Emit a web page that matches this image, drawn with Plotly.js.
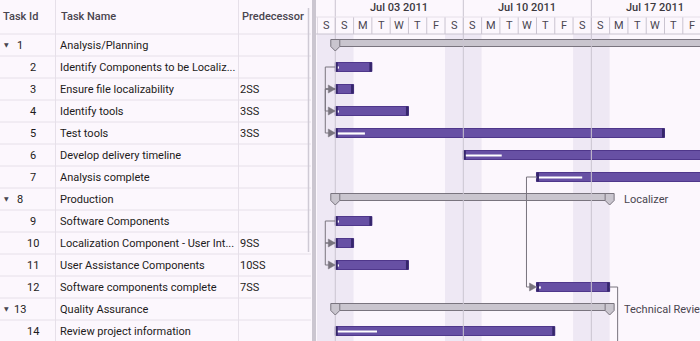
<!DOCTYPE html>
<html>
<head>
<meta charset="utf-8">
<script src="https://cdn.plot.ly/plotly-3.0.1.min.js"></script>
<style>
html,body{margin:0;padding:0;background:#fcf7fd;overflow:hidden;}
#chart{width:700px;height:341px;}
</style>
</head>
<body>
<div id="chart"></div>
<script>
// ---------------- data ----------------
const columnHeaders = ['Task Id', 'Task Name', 'Predecessor'];
const taskIds = [1, 2, 3, 4, 5, 6, 7, 8, 9, 10, 11, 12, 13, 14];
const taskNames = [
  'Analysis/Planning', 'Identify Components to be Localized', 'Ensure file localizability',
  'Identify tools', 'Test tools', 'Develop delivery timeline', 'Analysis complete',
  'Production', 'Software Components', 'Localization Component - User Interface',
  'User Assistance Components', 'Software components complete', 'Quality Assurance',
  'Review project information'
];
const predecessors = ['', '', '2SS', '3SS', '3SS', '', '', '', '', '9SS', '10SS', '7SS', '', ''];
const isParent = [true, false, false, false, false, false, false, true, false, false, false, false, true, false];
const startDates = ['2011-07-03', '2011-07-03', '2011-07-03', '2011-07-03', '2011-07-03', '2011-07-10', '2011-07-14',
                    '2011-07-03', '2011-07-03', '2011-07-03', '2011-07-03', '2011-07-14', '2011-07-03', '2011-07-03'];
const durationDays = [25, 2, 1, 4, 18, 14, 10, 15, 2, 1, 4, 4, 15, 12];
const progressPct = [0, 10, 10, 5, 9, 15, 25, 0, 10, 10, 5, 6, 0, 19];
const resourceNames = ['', '', '', '', '', '', '', 'Localizer', '', '', '', '', 'Technical Reviewer', ''];
// the successor of task 12 lies below the visible rows (finish-to-start link)
const offscreenLinks = [{from: 12, toRow: 15, type: 'FS'}];
const weekdayLetters = ['S', 'M', 'T', 'W', 'T', 'F', 'S'];
const monthNames = ['Jan', 'Feb', 'Mar', 'Apr', 'May', 'Jun', 'Jul', 'Aug', 'Sep', 'Oct', 'Nov', 'Dec'];
const viewStartDate = '2011-07-02';

// ---------------- geometry / style ----------------
const W = 700, H = 341, HEAD = 34, ROW = 22, CHART_L = 317, DAY_PX = 18.29;
const DAY = 86400000;
const FONT = 'Roboto, "Noto Sans", sans-serif';
const C = {
  bg: '#fcf7fd', weekend: '#eee8f4', line: '#e6e0e9', week: '#cac4d0', text: '#1d1b20', sub: '#49454f',
  bar: '#6750a4', barLine: '#4f378b', cap: '#35266b', sum: '#c9c5ce', sumLine: '#79747e', conn: '#79747e'
};
const viewStartMs = Date.parse(viewStartDate + 'T00:00:00Z');
const viewEndMs = viewStartMs + (W - CHART_L) / DAY_PX * DAY;
const yTop = -HEAD / ROW - 0.5, yBot = yTop + H / ROW;
const toStr = ms => new Date(ms).toISOString().slice(0, 19).replace('T', ' ');
const px = p => p / W;
const py = p => 1 - p / H;
const trunc = s => s.length > 34 ? s.slice(0, 33) + '...' : s;

const rows = taskIds.map((_, i) => i);
const sMs = startDates.map(d => Date.parse(d + 'T00:00:00Z'));
const eMs = sMs.map((s, i) => s + durationDays[i] * DAY);
const parents = rows.filter(i => isParent[i]);
const leaves = rows.filter(i => !isParent[i]);
const capMs = 2.5 / DAY_PX * DAY;

function bars(idx, baseFn, sizeFn, hPx, offPx, color, lineColor, lineW) {
  return {
    type: 'bar', orientation: 'h', y: idx, base: idx.map(i => toStr(baseFn(i))), x: idx.map(sizeFn),
    width: hPx / ROW, offset: offPx / ROW, hoverinfo: 'skip',
    marker: {color: color, line: {color: lineColor || color, width: lineW || 0}}
  };
}
const traces = [
  bars(parents, i => sMs[i], i => durationDays[i] * DAY, 7, -5.5, C.sum, C.sumLine, 1),
  bars(leaves, i => sMs[i], i => durationDays[i] * DAY, 9, -4.5, C.bar, C.barLine, 1),
  bars(leaves, i => sMs[i], i => durationDays[i] * DAY * progressPct[i] / 100, 2.2, -0.6, '#ffffff'),
  bars(leaves, i => sMs[i], i => capMs, 9, -4.5, C.cap),
  bars(leaves, i => eMs[i] - capMs, i => capMs, 9, -4.5, C.cap)
];

// ---------------- shapes ----------------
const shapes = [];
// weekend shading + day / week lines
for (let d = viewStartMs; d < viewEndMs; d += DAY) {
  const wd = new Date(d).getUTCDay();
  if (wd === 0 || wd === 6) {
    shapes.push({type: 'rect', xref: 'x', yref: 'paper', x0: toStr(d), x1: toStr(d + DAY), y0: 0, y1: py(HEAD),
      fillcolor: C.weekend, line: {width: 0}, layer: 'below'});
  }
  shapes.push({type: 'line', xref: 'x', yref: 'paper', x0: toStr(d), x1: toStr(d), y0: py(HEAD), y1: py(17),
    line: {color: C.week, width: 1}});
  if (wd === 0) {
    shapes.push({type: 'line', xref: 'x', yref: 'paper', x0: toStr(d), x1: toStr(d), y0: 0, y1: 1,
      line: {color: C.week, width: 1}});
  }
}
// header horizontal lines of the timeline
shapes.push({type: 'line', xref: 'paper', yref: 'paper', x0: px(316), x1: 1, y0: py(HEAD), y1: py(HEAD), line: {color: C.week, width: 1}});
shapes.push({type: 'line', xref: 'paper', yref: 'paper', x0: px(316), x1: 1, y0: py(17), y1: py(17), line: {color: C.line, width: 1}});
// grid rows and columns
for (let k = 0; k <= taskIds.length; k++) {
  shapes.push({type: 'line', xref: 'paper', yref: 'y', x0: 0, x1: px(311), y0: k - 0.5, y1: k - 0.5, line: {color: C.line, width: 1}});
}
[55.5, 238.5].forEach(x => shapes.push({type: 'line', xref: 'paper', yref: 'paper', x0: px(x), x1: px(x), y0: 0, y1: 1, line: {color: C.line, width: 1}}));
// scrollbar thumb and splitter
shapes.push({type: 'line', xref: 'paper', yref: 'paper', x0: px(308.5), x1: px(308.5), y0: py(252), y1: py(8), line: {color: '#cfcad5', width: 1.5}});
shapes.push({type: 'rect', xref: 'paper', yref: 'paper', x0: px(312), x1: px(316), y0: 0, y1: 1, fillcolor: '#cbc6d0', line: {width: 0}});

// summary markers
const shield = 'M-4.5,5.5 L4.5,5.5 L4.5,-1.5 L0,-6 L-4.5,-1.5 Z';
parents.forEach(i => {
  [sMs[i], eMs[i]].forEach(ms => shapes.push({type: 'path', xref: 'x', yref: 'y', xsizemode: 'pixel', ysizemode: 'pixel',
    xanchor: toStr(ms), yanchor: i, path: shield, fillcolor: C.sum, line: {color: C.sumLine, width: 1}}));
});
// connectors from predecessor column
const arrow = 'M0,0 L-7,4 L-7,-4 Z';
predecessors.forEach((p, s) => {
  const m = /^(\d+)(SS|FS)$/.exec(p);
  if (!m) return;
  const f = taskIds.indexOf(+m[1]);
  const dx = (sMs[s] - sMs[f]) / DAY * DAY_PX;
  shapes.push({type: 'path', xref: 'x', yref: 'y', xsizemode: 'pixel', xanchor: toStr(sMs[f]),
    path: `M0,${f} H-10 V${s} H${dx - 6}`, line: {color: C.conn, width: 1}});
  shapes.push({type: 'path', xref: 'x', yref: 'y', xsizemode: 'pixel', ysizemode: 'pixel', xanchor: toStr(sMs[s]), yanchor: s,
    path: arrow, fillcolor: C.conn, line: {color: C.conn, width: 0.5}});
});
offscreenLinks.forEach(l => {
  const f = taskIds.indexOf(l.from);
  shapes.push({type: 'path', xref: 'x', yref: 'y', xsizemode: 'pixel', xanchor: toStr(eMs[f]),
    path: `M0,${f} H8 V${l.toRow - 1}`, line: {color: C.conn, width: 1}});
});

// ---------------- annotations ----------------
const ann = [];
const T = (text, x, y, o) => Object.assign({text: text, x: x, y: y, xref: 'paper', yref: 'y', showarrow: false,
  xanchor: 'left', yanchor: 'middle', borderpad: 0, borderwidth: 0, font: {family: FONT, size: 11, color: C.text}}, o || {});
[[3, 0], [60.5, 1], [242, 2]].forEach(([x, c]) => ann.push(T(columnHeaders[c], px(x), py(17),
  {yref: 'paper', font: {family: FONT, size: 11, color: C.sub, weight: 500}})));
rows.forEach(i => {
  ann.push(T(String(taskIds[i]), px(isParent[i] ? 19.5 : 32.5), i, {xanchor: 'center'}));
  if (isParent[i]) ann.push(T('▼', px(6), i - 0.03, {xanchor: 'center', font: {family: 'DejaVu Sans', size: 6, color: C.sub}}));
  ann.push(T(trunc(taskNames[i]), px(60), i));
  if (predecessors[i]) ann.push(T(predecessors[i], px(239.5), i));
  if (resourceNames[i]) ann.push(T(resourceNames[i], toStr(eMs[i]), i, {xref: 'x', xshift: 14, font: {family: FONT, size: 11, color: C.sub}}));
});
for (let d = viewStartMs; d < viewEndMs; d += DAY) {
  const dt = new Date(d);
  ann.push(T(weekdayLetters[dt.getUTCDay()], toStr(d + DAY / 2), py(25.5),
    {xref: 'x', yref: 'paper', xanchor: 'center', font: {family: FONT, size: 11, color: C.sub}}));
  if (dt.getUTCDay() === 0 && d + 3.5 * DAY < viewEndMs) {
    const lbl = monthNames[dt.getUTCMonth()] + ' ' + String(dt.getUTCDate()).padStart(2, '0') + ' ' + dt.getUTCFullYear();
    ann.push(T(lbl, toStr(d + 3.5 * DAY), py(7.5),
      {xref: 'x', yref: 'paper', xanchor: 'center', font: {family: FONT, size: 11, color: '#3b383e', weight: 500}}));
  }
}

const layout = {
  width: W, height: H, margin: {l: 0, r: 0, t: 0, b: 0, pad: 0},
  paper_bgcolor: C.bg, plot_bgcolor: 'rgba(0,0,0,0)', showlegend: false, barmode: 'overlay',
  font: {family: FONT, size: 11, color: C.text},
  xaxis: {type: 'date', domain: [CHART_L / W, 1], range: [toStr(viewStartMs), toStr(viewEndMs)], autorange: false,
    visible: false, showgrid: false, zeroline: false, fixedrange: true},
  yaxis: {range: [yBot, yTop], autorange: false, visible: false, showgrid: false, zeroline: false, fixedrange: true},
  shapes: shapes, annotations: ann
};
Plotly.newPlot('chart', traces, layout, {staticPlot: true, displayModeBar: false});
</script>
</body>
</html>
